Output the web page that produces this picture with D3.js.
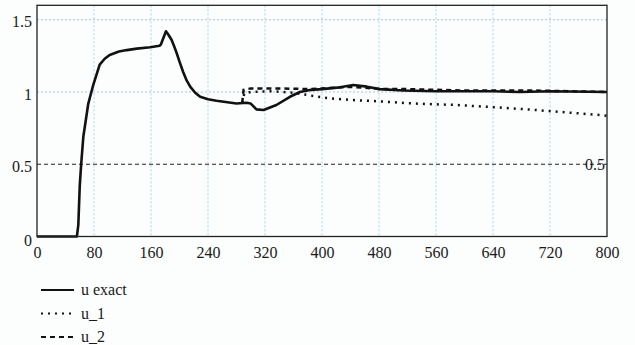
<!DOCTYPE html>
<html>
<head>
<meta charset="utf-8">
<script src="https://cdn.jsdelivr.net/npm/d3@7"></script>
<style>
    body { margin: 0; background: #fcfdfd; }
</style>
</head>
<body>
<script>
// data
var xTicks = [0, 80, 160, 240, 320, 400, 480, 560, 640, 720, 800]
var yTicks = [0, 0.5, 1, 1.5]
var markerY = 0.5

var tExact = [0, 56, 58, 60, 62, 65, 72, 79, 88, 95, 102, 115, 126, 140, 159, 172, 174, 181, 184, 189, 193, 196, 200, 205, 210, 215, 222, 229, 240, 252, 280, 294, 300, 308, 318, 336, 355, 369, 385, 400, 421, 444, 463, 481, 514, 560, 640, 678, 720, 800]
var uExact = [0, 0, 0.08, 0.35, 0.5, 0.69, 0.92, 1.05, 1.19, 1.23, 1.256, 1.28, 1.29, 1.30, 1.31, 1.32, 1.33, 1.42, 1.40, 1.36, 1.31, 1.27, 1.21, 1.14, 1.08, 1.037, 0.995, 0.967, 0.95, 0.94, 0.92, 0.926, 0.92, 0.88, 0.875, 0.91, 0.967, 1.0, 1.015, 1.02, 1.03, 1.048, 1.037, 1.02, 1.01, 1.005, 1.005, 1.0, 1.005, 1.0]

var t1 = [288, 291, 300, 330, 360, 385, 407, 440, 481, 530, 589, 640, 687, 740, 792, 800]
var u1 = [0.925, 0.99, 1.0, 1.005, 0.995, 0.975, 0.958, 0.945, 0.935, 0.92, 0.91, 0.895, 0.88, 0.86, 0.84, 0.835]

var t2 = [288, 290, 300, 340, 380, 400, 440, 460, 480, 520, 560, 600, 640, 700, 800]
var u2 = [0.925, 1.015, 1.025, 1.025, 1.02, 1.025, 1.035, 1.03, 1.02, 1.02, 1.015, 1.01, 1.01, 1.01, 1.0]

var seriesNames = ["u exact", "u_1", "u_2"]

var w = 635
var h = 345
var serif = "Liberation Serif"

var svg = d3.select("body").append("svg")
    .attr("width", w)
    .attr("height", h)

var xScale = d3.scaleLinear().domain([0, 800]).range([37, 607])
var yScale = d3.scaleLinear().domain([0, 1.6]).range([236.5, 5.3])

// grid
svg.append("g").selectAll("line").data(xTicks.slice(1, -1)).enter()
    .append("line")
    .attr("x1", function (d) { return xScale(d) })
    .attr("x2", function (d) { return xScale(d) })
    .attr("y1", yScale(1.6))
    .attr("y2", yScale(0))
    .attr("stroke", "#a9d3ee")
    .attr("stroke-width", 1)
    .attr("stroke-dasharray", "2,2")

svg.append("g").selectAll("line").data([1, 1.5]).enter()
    .append("line")
    .attr("x1", xScale(0))
    .attr("x2", xScale(800))
    .attr("y1", function (d) { return yScale(d) })
    .attr("y2", function (d) { return yScale(d) })
    .attr("stroke", "#a9c3ee")
    .attr("stroke-width", 1)
    .attr("stroke-dasharray", "2,2")

// marker at 0.5
svg.append("line")
    .attr("x1", xScale(0))
    .attr("x2", xScale(800))
    .attr("y1", yScale(markerY))
    .attr("y2", yScale(markerY))
    .attr("stroke", "#222")
    .attr("stroke-width", 1.2)
    .attr("stroke-dasharray", "4,3")

svg.append("text")
    .attr("x", xScale(800) - 2)
    .attr("y", yScale(markerY))
    .attr("dy", "0.35em")
    .attr("text-anchor", "end")
    .attr("font-size", 16)
    .attr("fill", "#1a1a1a")
    .style("font-family", serif)
    .text(markerY)

// lines
function pts(ts, vs) {
    return ts.map(function (t, i) { return [t, vs[i]] })
}
var line = d3.line()
    .x(function (d) { return xScale(d[0]) })
    .y(function (d) { return yScale(d[1]) })

svg.append("path")
    .attr("d", line(pts(t1, u1)))
    .attr("fill", "none")
    .attr("stroke", "#111")
    .attr("stroke-width", 2.5)
    .attr("stroke-dasharray", "2,5")

svg.append("path")
    .attr("d", line(pts(t2, u2)))
    .attr("fill", "none")
    .attr("stroke", "#111")
    .attr("stroke-width", 2.5)
    .attr("stroke-dasharray", "5,4")

svg.append("path")
    .attr("d", line(pts(tExact, uExact)))
    .attr("fill", "none")
    .attr("stroke", "#111")
    .attr("stroke-width", 2.6)
    .attr("stroke-linejoin", "round")

// frame
svg.append("rect")
    .attr("x", xScale(0))
    .attr("y", yScale(1.6))
    .attr("width", xScale(800) - xScale(0))
    .attr("height", yScale(0) - yScale(1.6))
    .attr("fill", "none")
    .attr("stroke", "#222")
    .attr("stroke-width", 1.3)

// axes
var xAxis = d3.axisBottom(xScale).tickValues(xTicks).tickSize(0).tickPadding(10)
var yAxis = d3.axisLeft(yScale).tickValues(yTicks).tickSize(0).tickPadding(5)
    .tickFormat(function (d) { return String(d) })

var gx = svg.append("g")
    .attr("transform", "translate(0," + yScale(0) + ")")
    .call(xAxis)
gx.attr("font-family", serif).attr("font-size", 16)
gx.select(".domain").remove()
gx.selectAll("text").attr("fill", "#1a1a1a").style("font-family", serif)

var gy = svg.append("g")
    .attr("transform", "translate(" + xScale(0) + ",0)")
    .call(yAxis)
gy.attr("font-family", serif).attr("font-size", 16)
gy.select(".domain").remove()
gy.selectAll("text").attr("fill", "#1a1a1a").style("font-family", serif)
    .attr("dy", function (d) { return d === 0 ? "0.55em" : "0.45em" })

// legend
var dashes = [null, "2,5", "5,4"]
var legend = svg.append("g").selectAll("g").data(seriesNames).enter()
    .append("g")
    .attr("transform", function (d, i) { return "translate(41," + (290 + i * 23.5) + ")" })

legend.append("line")
    .attr("x1", 0)
    .attr("x2", 33)
    .attr("stroke", "#111")
    .attr("stroke-width", 2.2)
    .attr("stroke-dasharray", function (d, i) { return dashes[i] })

legend.append("text")
    .attr("x", 40)
    .attr("dy", "0.32em")
    .attr("font-size", 16)
    .attr("fill", "#1a1a1a")
    .style("font-family", serif)
    .text(function (d) { return d })
</script>
</body>
</html>
